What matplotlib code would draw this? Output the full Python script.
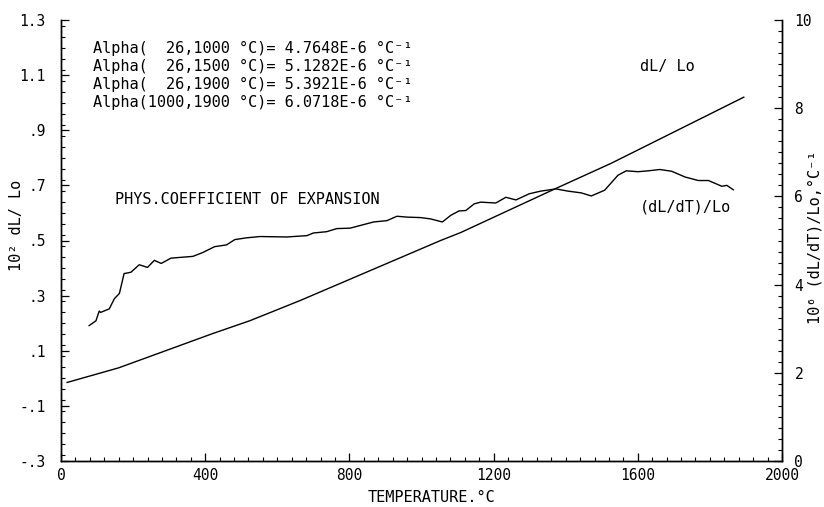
import matplotlib
matplotlib.use("Agg")
import matplotlib.pyplot as plt
from matplotlib.ticker import MultipleLocator

# ---- data ----
temp_dl = [17, 160, 420, 524, 663, 1053, 1109, 1373, 1526, 1894]
dl_lo = [-0.015, 0.038, 0.162, 0.209, 0.282, 0.50, 0.529, 0.689, 0.78, 1.02]

temp_coef = [78, 97, 106, 110, 134, 148, 162, 175, 194, 217, 240, 259, 278, 305,
             366, 394, 426, 459, 482, 514, 552, 626, 682, 700, 737, 765, 802,
             867, 904, 932, 960, 997, 1025, 1058, 1081, 1104, 1123, 1146, 1164,
             1206, 1234, 1262, 1299, 1331, 1373, 1406, 1443, 1471, 1508, 1545,
             1568, 1601, 1629, 1661, 1694, 1731, 1768, 1796, 1833, 1847, 1865]
coef = [3.07, 3.18, 3.4, 3.37, 3.45, 3.68, 3.8, 4.25, 4.28, 4.45, 4.39, 4.55,
        4.48, 4.6, 4.64, 4.73, 4.86, 4.9, 5.02, 5.06, 5.09, 5.08, 5.11, 5.17,
        5.2, 5.27, 5.28, 5.42, 5.45, 5.55, 5.53, 5.52, 5.49, 5.42, 5.57, 5.67,
        5.68, 5.83, 5.87, 5.85, 5.98, 5.92, 6.06, 6.12, 6.17, 6.12, 6.08, 6.01,
        6.14, 6.48, 6.58, 6.56, 6.58, 6.61, 6.57, 6.44, 6.36, 6.36, 6.23, 6.25,
        6.15]

x_ticks = [0, 400, 800, 1200, 1600, 2000]
x_labels = ["0", "400", "800", "1200", "1600", "2000"]
left_ticks = [-0.3, -0.1, 0.1, 0.3, 0.5, 0.7, 0.9, 1.1, 1.3]
left_labels = ["-.3", "-.1", ".1", ".3", ".5", ".7", ".9", "1.1", "1.3"]
right_ticks = [0, 2, 4, 6, 8, 10]
right_labels = ["0", "2", "4", "6", "8", "10"]

alpha_lines = [
    "Alpha(  26,1000 °C)= 4.7648E-6 °C⁻¹",
    "Alpha(  26,1500 °C)= 5.1282E-6 °C⁻¹",
    "Alpha(  26,1900 °C)= 5.3921E-6 °C⁻¹",
    "Alpha(1000,1900 °C)= 6.0718E-6 °C⁻¹",
]

FONT = "DejaVu Sans Mono"
FS = 11
FT = 10.5
plt.rcParams["font.family"] = [FONT, "DejaVu Sans"]

fig = plt.figure(figsize=(8.24, 5.07), dpi=100)
ax = fig.add_axes([61 / 824, (507 - 461) / 507, (782 - 61) / 824, (461 - 20) / 507])
ax2 = ax.twinx()

ax.plot(temp_dl, dl_lo, color="black", lw=1.0)
ax2.plot(temp_coef, coef, color="black", lw=1.0)

ax.set_xlim(0, 2000)
ax.set_ylim(-0.3, 1.3)
ax2.set_ylim(0, 10)

ax.set_xticks(x_ticks)
ax.set_xticklabels(x_labels, fontsize=FT)
ax.xaxis.set_minor_locator(MultipleLocator(40))
ax.set_yticks(left_ticks)
ax.set_yticklabels(left_labels, fontsize=FT)
ax.yaxis.set_minor_locator(MultipleLocator(0.04))
ax2.set_yticks(right_ticks)
ax2.set_yticklabels(right_labels, fontsize=FT)
ax2.yaxis.set_minor_locator(MultipleLocator(0.25))

for a in (ax, ax2):
    a.spines["top"].set_visible(False)
    for s in a.spines.values():
        s.set_linewidth(1.0)
ax.tick_params(axis="x", which="major", direction="in", length=6, width=0.9, pad=5)
ax.tick_params(axis="y", which="major", direction="in", length=6, width=0.9, pad=11)
ax.tick_params(which="minor", direction="in", length=3, width=0.8)
ax2.tick_params(which="major", direction="in", length=6, width=0.9, pad=9)
ax2.tick_params(which="minor", direction="in", length=3, width=0.8)

fig.text(432 / 824, 1 - 497 / 507, "TEMPERATURE.°C", fontsize=FS,
         ha="center", va="center")
fig.text(17 / 824, 1 - 225 / 507, "10² dL/ Lo", rotation=90, fontsize=FS,
         ha="center", va="center")
fig.text(815 / 824, 1 - 237 / 507, "10⁶ (dL/dT)/Lo,°C⁻¹", rotation=90,
         fontsize=FS, ha="center", va="center")

for i, line in enumerate(alpha_lines):
    ax.text(0.044, 0.935 - i * 0.041, line, transform=ax.transAxes,
            fontsize=FS, ha="left", va="center")

ax.text(0.075, 0.592, "PHYS.COEFFICIENT OF EXPANSION", transform=ax.transAxes,
        fontsize=FS, ha="left", va="center")
ax.text(0.803, 0.894, "dL/ Lo", transform=ax.transAxes, fontsize=FS,
        ha="left", va="center")
ax.text(0.803, 0.576, "(dL/dT)/Lo", transform=ax.transAxes, fontsize=FS,
        ha="left", va="center")

fig.savefig("out.png", dpi=100)
